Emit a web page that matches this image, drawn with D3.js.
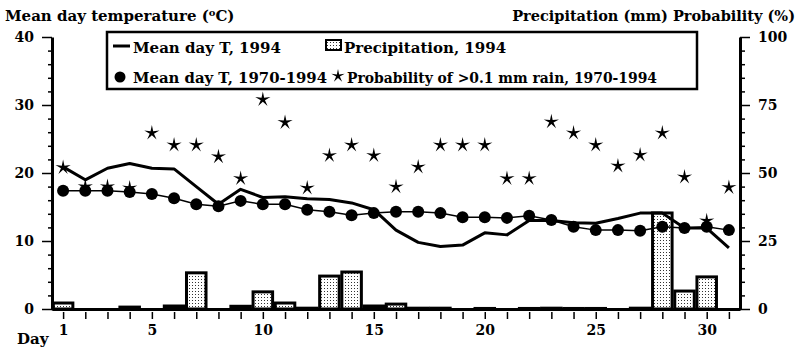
<!DOCTYPE html>
<html>
<head>
<meta charset="utf-8">
<script src="https://cdn.jsdelivr.net/npm/d3@7"></script>
<style>
  body { margin: 0; background: #fff; }
  svg text { font-family: "DejaVu Serif", serif; font-weight: bold; fill: #000; }
</style>
</head>
<body>
<div id="chart"></div>
<script>
const days = d3.range(1, 32);
const dayLabels = [1, 5, 10, 15, 20, 25, 30];
const tempLabels = [0, 10, 20, 30, 40];
const probLabels = [0, 25, 50, 75, 100];

const temp1994 = [20.9, 19.0, 20.7, 21.4, 20.7, 20.6, 18.0, 15.4, 17.6, 16.4, 16.5, 16.2, 16.1, 15.6, 14.6,
                  11.6, 9.8, 9.2, 9.4, 11.2, 10.9, 13.0, 13.0, 12.7, 12.6, 13.3, 14.1, 14.1, 11.9, 11.9, 9.0];
const tempMean = [17.4, 17.4, 17.4, 17.2, 16.9, 16.3, 15.4, 15.1, 15.9, 15.4, 15.4, 14.6, 14.3, 13.8, 14.1,
                  14.3, 14.3, 14.1, 13.5, 13.5, 13.4, 13.7, 13.1, 12.1, 11.6, 11.6, 11.5, 12.1, 11.9, 12.1, 11.6];
const precip1994 = [2.2, 0, 0, 0.7, 0, 1.1, 13.3, 0, 1.0, 6.3, 2.2, 0.3, 12.1, 13.6, 1.1,
                    1.8, 0.3, 0.3, 0, 0.2, 0, 0.2, 0.3, 0.2, 0.2, 0, 0.3, 35.3, 6.6, 11.8, 0];
const rainProb = [52, 45, 45, 44.5, 64.7, 60.3, 60.3, 56, 48, 77, 68.6, 44.5, 56.4, 60.3, 56.4,
                  44.9, 52.2, 60.3, 60.3, 60.3, 48, 48, 68.8, 64.7, 60.3, 52.6, 56.6, 64.7, 48.5, 32.4, 44.7];

const width = 800, height = 352;
const svg = d3.select("#chart").append("svg")
  .attr("width", width).attr("height", height);

// stipple fill for bars
const pat = svg.append("defs").append("pattern")
  .attr("id", "dots").attr("width", 3).attr("height", 3)
  .attr("patternUnits", "userSpaceOnUse");
pat.append("rect").attr("width", 3).attr("height", 3).attr("fill", "#fff");
pat.append("rect").attr("width", 1).attr("height", 1).attr("fill", "#333");

const x = d3.scaleLinear().domain([0.5, 31.5]).range([52, 740]);
const yT = d3.scaleLinear().domain([0, 40]).range([309, 37]);
const yP = d3.scaleLinear().domain([0, 100]).range([309, 37]);

// thin five-point star
const thinStar = {
  draw(ctx, size) {
    const r = Math.sqrt(size) / 2, ri = r * 0.28;
    for (let i = 0; i < 10; i++) {
      const a = -Math.PI / 2 + i * Math.PI / 5;
      const rr = i % 2 ? ri : r;
      if (i === 0) ctx.moveTo(rr * Math.cos(a), rr * Math.sin(a));
      else ctx.lineTo(rr * Math.cos(a), rr * Math.sin(a));
    }
    ctx.closePath();
  }
};

// bars
const bw = (x(2) - x(1)) * 0.88;
svg.append("g").selectAll("rect")
  .data(days.filter((d, i) => precip1994[i] > 0))
  .join("rect")
  .attr("x", d => x(d) - bw / 2)
  .attr("y", d => yP(precip1994[d - 1]))
  .attr("width", bw)
  .attr("height", d => yP(0) - yP(precip1994[d - 1]))
  .attr("fill", "url(#dots)")
  .attr("stroke", "#000")
  .attr("stroke-width", 3);

// axes
const axL = svg.append("g").attr("transform", "translate(52,0)")
  .call(d3.axisLeft(yT).tickValues(d3.range(0, 41, 2))
    .tickFormat(d => tempLabels.includes(d) ? d : "").tickSizeOuter(0).tickPadding(12));
axL.selectAll(".tick line").attr("x2", d => tempLabels.includes(d) ? -10 : -4);

const axR = svg.append("g").attr("transform", "translate(740,0)")
  .call(d3.axisRight(yP).tickValues(d3.range(0, 101, 5))
    .tickFormat(d => probLabels.includes(d) ? d : "").tickSizeOuter(0).tickPadding(12));
axR.selectAll(".tick line").attr("x2", d => probLabels.includes(d) ? 10 : 5);

const axB = svg.append("g").attr("transform", "translate(0,309)")
  .call(d3.axisBottom(x).tickValues(days)
    .tickFormat(d => dayLabels.includes(d) ? d : "").tickSize(0).tickSizeOuter(0));
axB.selectAll(".tick line").attr("y1", 3).attr("y2", 10);
axB.selectAll(".tick text").attr("y", 26).attr("dy", 0);

svg.selectAll(".domain").attr("stroke", "#000").attr("stroke-width", 3);
svg.selectAll(".tick line").attr("stroke", "#000").attr("stroke-width", 1.5);
svg.selectAll(".tick text").style("font-size", "14px").style("font-family", "DejaVu Serif").style("font-weight", "bold");

svg.append("text").attr("x", 17).attr("y", 344).style("font-size", "15px").text("Day");

// lines
const line = d3.line().x((d, i) => x(days[i]));
svg.append("path")
  .attr("d", line.y(d => yT(d))(tempMean))
  .attr("fill", "none").attr("stroke", "#000").attr("stroke-width", 1.5);
svg.append("path")
  .attr("d", line.y(d => yT(d))(temp1994))
  .attr("fill", "none").attr("stroke", "#000").attr("stroke-width", 3)
  .attr("stroke-linejoin", "round");

svg.append("g").selectAll("circle")
  .data(tempMean).join("circle")
  .attr("cx", (d, i) => x(days[i])).attr("cy", d => yT(d)).attr("r", 6).attr("fill", "#000");

svg.append("g").selectAll("path")
  .data(rainProb).join("path")
  .attr("transform", (d, i) => `translate(${x(days[i])},${yP(d)})`)
  .attr("d", d3.symbol().type(thinStar).size(256))
  .attr("fill", "#000");

// titles
const t1 = svg.append("text").attr("x", 5).attr("y", 21).style("font-size", "15px");
t1.append("tspan").text("Mean day temperature (");
t1.append("tspan").attr("dy", -5).style("font-size", "10px").text("o");
t1.append("tspan").attr("dy", 5).text("C)");
svg.append("text").attr("x", 795).attr("y", 21).attr("text-anchor", "end")
  .style("font-size", "14.5px").text("Precipitation (mm) Probability (%)");

// legend
const lg = svg.append("g");
lg.append("rect").attr("x", 107).attr("y", 32).attr("width", 590).attr("height", 57)
  .attr("fill", "#fff").attr("stroke", "#000").attr("stroke-width", 2.5);
lg.append("line").attr("x1", 113).attr("x2", 130).attr("y1", 46).attr("y2", 46)
  .attr("stroke", "#000").attr("stroke-width", 3);
lg.append("text").attr("x", 133).attr("y", 53).style("font-size", "15px").text("Mean day T, 1994");
lg.append("rect").attr("x", 326).attr("y", 40).attr("width", 15).attr("height", 10)
  .attr("fill", "url(#dots)").attr("stroke", "#000").attr("stroke-width", 2);
lg.append("text").attr("x", 344).attr("y", 53).style("font-size", "15px").text("Precipitation, 1994");
lg.append("circle").attr("cx", 120).attr("cy", 77).attr("r", 5.5).attr("fill", "#000");
lg.append("text").attr("x", 133).attr("y", 83).style("font-size", "15px")
  .attr("textLength", 194).attr("lengthAdjust", "spacingAndGlyphs").text("Mean day T, 1970-1994");
lg.append("path").attr("transform", "translate(338,76)")
  .attr("d", d3.symbol().type(thinStar).size(196)).attr("fill", "#000");
lg.append("text").attr("x", 347).attr("y", 83).style("font-size", "15px")
  .attr("textLength", 310).attr("lengthAdjust", "spacingAndGlyphs")
  .text("Probability of >0.1 mm rain, 1970-1994");
</script>
</body>
</html>
